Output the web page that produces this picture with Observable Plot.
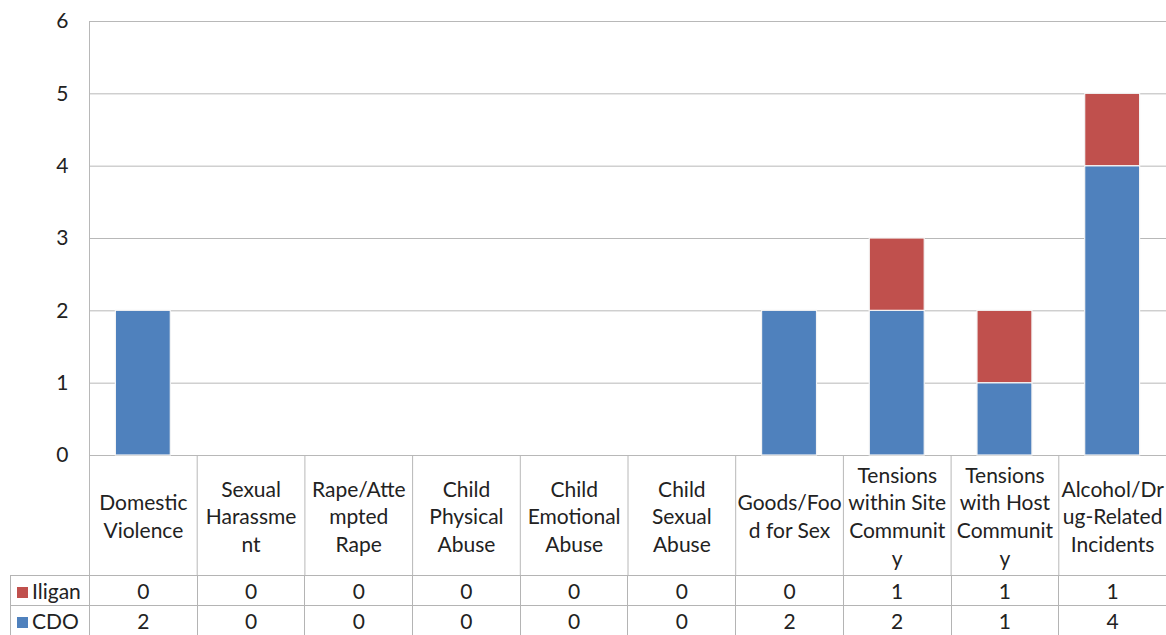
<!DOCTYPE html>
<html>
<head>
<meta charset="utf-8">
<script src="https://cdn.jsdelivr.net/npm/d3@7"></script>
<script src="https://cdn.jsdelivr.net/npm/@observablehq/plot@0.6"></script>
<style>
  html, body { margin: 0; padding: 0; background: #fff; }
  #wrap { width: 1166px; height: 635px; overflow: hidden; position: relative; font-family: Lato, sans-serif; }
  #chart svg { display: block; }
  table.dt { border-collapse: collapse; table-layout: fixed; margin-left: 10px; width: 1157px; font-family: Lato, sans-serif; font-size: 21px; color: #222; }
  table.dt td { border: 1px solid #b4b4b4; height: 29px; padding: 0; text-align: center; line-height: 29px; white-space: nowrap; }
  table.dt td.leg { text-align: left; padding-left: 6px; }
  .sw { display: inline-block; width: 11px; height: 11px; margin-right: 4px; vertical-align: 1px; }
</style>
</head>
<body>
<div id="wrap">
  <div id="chart"></div>
  <div id="table"></div>
</div>
<script>
const categories = ["Domestic Violence", "Sexual Harassment", "Rape/Attempted Rape", "Child Physical Abuse", "Child Emotional Abuse", "Child Sexual Abuse", "Goods/Food for Sex", "Tensions within Site Community", "Tensions with Host Community", "Alcohol/Drug-Related Incidents"];
const categoryLabels = ["Domestic\nViolence", "Sexual\nHarassme\nnt", "Rape/Atte\nmpted\nRape", "Child\nPhysical\nAbuse", "Child\nEmotional\nAbuse", "Child\nSexual\nAbuse", "Goods/Foo\nd for Sex", "Tensions\nwithin Site\nCommunit\ny", "Tensions\nwith Host\nCommunit\ny", "Alcohol/Dr\nug-Related\nIncidents"];
const seriesNames = ["Iligan", "CDO"];
const iliganValues = [0, 0, 0, 0, 0, 0, 0, 1, 1, 1];
const cdoValues = [2, 0, 0, 0, 0, 0, 2, 2, 1, 4];
const yTicks = [0, 1, 2, 3, 4, 5, 6];
const seriesColors = { CDO: "#4f81bd", Iligan: "#c0504d" };

const W = 1166, ML = 89, MR = 0, MT = 21, LABEL_ROW = 120;
const step = (W - ML - MR) / categories.length;
const gridColor = "#b8b8b8";
const labelOf = new Map(categories.map((c, i) => [c, categoryLabels[i]]));

const rows = [];
categories.forEach((c, i) => {
  rows.push({ category: c, series: "CDO", value: cdoValues[i] });
  rows.push({ category: c, series: "Iligan", value: iliganValues[i] });
});

const chart = Plot.plot({
  width: W,
  height: 575,
  marginLeft: ML,
  marginRight: MR,
  marginTop: MT,
  marginBottom: LABEL_ROW,
  x: { domain: categories, paddingInner: 0.49, paddingOuter: 0.245, round: false, axis: null, label: null },
  y: { domain: [0, 6], axis: null, label: null },
  color: { domain: ["CDO", "Iligan"], range: [seriesColors.CDO, seriesColors.Iligan] },
  style: { fontFamily: "Lato, sans-serif", fontSize: "21px", color: "#222", background: "white", overflow: "visible" },
  marks: [
    Plot.ruleY(yTicks, { stroke: gridColor, strokeWidth: 1 }),
    Plot.ruleX([categories[0]], { dx: -step / 2, y1: 0, y2: 6, stroke: gridColor }),
    Plot.axisX({ tickSize: LABEL_ROW, tickFormat: () => "", dx: -step / 2, stroke: gridColor, label: null }),
    Plot.axisX({ tickSize: 0, tickPadding: 60, lineAnchor: "middle", lineHeight: 1.33, tickFormat: d => labelOf.get(d), label: null, fill: "#222" }),
    Plot.axisY({ ticks: yTicks, tickSize: 0, tickPadding: 21, tickFormat: d => String(d), label: null, fill: "#222" }),
    Plot.barY(rows.filter(d => d.value > 0), { x: "category", y: "value", fill: "series", stroke: "#f4f4f4", strokeWidth: 1.2 })
  ]
});
document.getElementById("chart").appendChild(chart);

// data table below the chart
const table = document.createElement("table");
table.className = "dt";
const colgroup = document.createElement("colgroup");
const c0 = document.createElement("col");
c0.style.width = (ML - 10) + "px";
colgroup.appendChild(c0);
categories.forEach(() => { const c = document.createElement("col"); c.style.width = step + "px"; colgroup.appendChild(c); });
table.appendChild(colgroup);
const valuesBySeries = { Iligan: iliganValues, CDO: cdoValues };
seriesNames.forEach(s => {
  const tr = document.createElement("tr");
  const th = document.createElement("td");
  th.className = "leg";
  const sw = document.createElement("span");
  sw.className = "sw";
  sw.style.background = seriesColors[s];
  th.appendChild(sw);
  th.appendChild(document.createTextNode(s));
  tr.appendChild(th);
  valuesBySeries[s].forEach(v => {
    const td = document.createElement("td");
    td.textContent = v;
    tr.appendChild(td);
  });
  table.appendChild(tr);
});
document.getElementById("table").appendChild(table);
</script>
</body>
</html>
